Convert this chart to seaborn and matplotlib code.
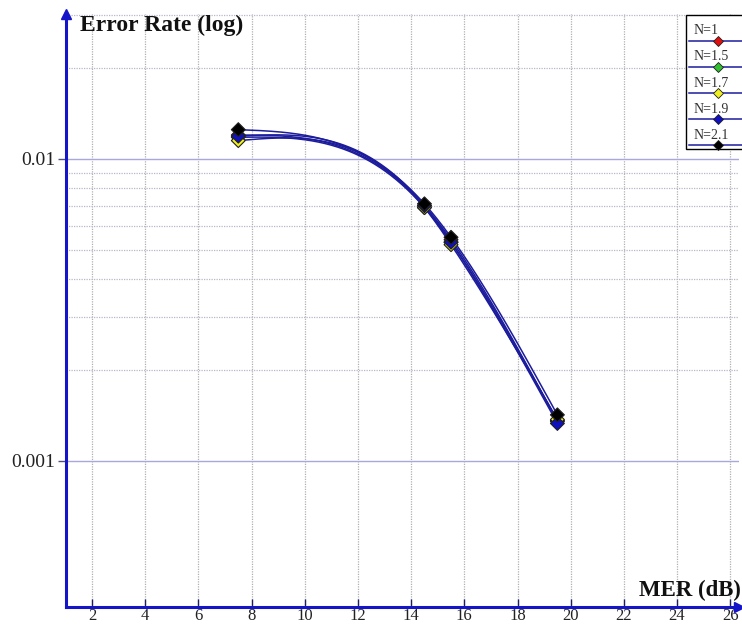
import numpy as np
import pandas as pd
import matplotlib
matplotlib.use("Agg")
import matplotlib.pyplot as plt
import seaborn as sns
from matplotlib.legend_handler import HandlerLine2D
from matplotlib.lines import Line2D
from matplotlib.ticker import FixedLocator, NullFormatter

# data
mer = [7.5, 14.5, 15.5, 19.5]
labels = ["N=1", "N=1.5", "N=1.7", "N=1.9", "N=2.1"]
err_n1 = [0.0120, 0.0070, 0.0054, 0.00135]
err_n15 = [0.0118, 0.0069, 0.0053, 0.00136]
err_n17 = [0.0115, 0.0069, 0.0052, 0.00137]
err_n19 = [0.0119, 0.0070, 0.0053, 0.00133]
err_n21 = [0.0125, 0.0071, 0.0055, 0.00142]
colors = ["#e01010", "#30c030", "#f0f020", "#1010c0", "#000000"]
x_ticks = [2, 4, 6, 8, 10, 12, 14, 16, 18, 20, 22, 24, 26]

series = [err_n1, err_n15, err_n17, err_n19, err_n21]
pts = pd.DataFrame({
    "MER": np.tile(mer, len(labels)),
    "err": np.concatenate(series),
    "N": np.repeat(labels, len(mer)),
})


def natural_spline(x, y, xs):
    x = np.asarray(x, float)
    y = np.asarray(y, float)
    n = len(x)
    h = np.diff(x)
    A = np.zeros((n, n))
    b = np.zeros(n)
    A[0, 0] = A[-1, -1] = 1
    for i in range(1, n - 1):
        A[i, i - 1] = h[i - 1]
        A[i, i] = 2 * (h[i - 1] + h[i])
        A[i, i + 1] = h[i]
        b[i] = 3 * ((y[i + 1] - y[i]) / h[i] - (y[i] - y[i - 1]) / h[i - 1])
    c = np.linalg.solve(A, b)
    idx = np.clip(np.searchsorted(x, xs) - 1, 0, n - 2)
    t = xs - x[idx]
    bb = (y[idx + 1] - y[idx]) / h[idx] - h[idx] * (2 * c[idx] + c[idx + 1]) / 3
    d = (c[idx + 1] - c[idx]) / (3 * h[idx])
    return y[idx] + bb * t + c[idx] * t ** 2 + d * t ** 3


# smooth curve through each series (spline in log space, like the original tool)
curves = []
for lab, ys in zip(labels, series):
    xs = np.linspace(mer[0], mer[-1], 300)
    curves.append(pd.DataFrame({"MER": xs,
                                "err": 10 ** natural_spline(mer, np.log10(ys), xs),
                                "N": lab}))
curves = pd.concat(curves)

plt.rcParams["font.family"] = ["Liberation Serif", "DejaVu Serif"]
axis_blue = "#1414c8"
line_blue = "#1c1c9c"

fig = plt.figure(figsize=(7.42, 6.29), dpi=100)
ax = fig.add_axes([66 / 742, 1 - 607 / 629, (739 - 66) / 742, (607 - 14) / 629])

sns.lineplot(data=curves, x="MER", y="err", hue="N", palette=[line_blue] * 5,
             linewidth=1.1, legend=False, ax=ax, sort=False)
sns.scatterplot(data=pts, x="MER", y="err", hue="N", palette=colors, marker="D",
                s=50, edgecolor="#202020", linewidth=0.8, legend=False, ax=ax, zorder=5)

ax.set_yscale("log")
ax.set_xlim(1.02, 26.33)
ax.set_ylim(0.000328, 0.0302)
ax.set_xlabel("")
ax.set_ylabel("")

ax.set_xticks(x_ticks)
ax.set_yticks([0.001, 0.01])
ax.set_yticklabels(["0.001", "0.01"])
ax.yaxis.set_minor_locator(FixedLocator([0.002, 0.003, 0.004, 0.005, 0.006, 0.007,
                                         0.008, 0.009, 0.02, 0.03]))
ax.yaxis.set_minor_formatter(NullFormatter())
ax.tick_params(axis="y", which="minor", length=0)
ax.tick_params(axis="y", which="major", direction="out", length=6, width=1,
               color="#505080", labelsize=14, labelcolor="#222222", pad=2)
ax.tick_params(axis="x", which="major", direction="in", length=6, width=1,
               color="#202060", labelsize=12, labelcolor="#222222", pad=1)

ax.grid(True, axis="x", which="major", linestyle=(0, (1, 1)), color="#b0b0b0", linewidth=0.9)
ax.grid(True, axis="y", which="major", linestyle="-", color="#a8a8dc", linewidth=1.0)
ax.grid(True, axis="y", which="minor", linestyle=(0, (1, 1)), color="#b8b8c8", linewidth=0.9)
ax.set_axisbelow(True)

for s in ["top", "right"]:
    ax.spines[s].set_visible(False)
for s in ["left", "bottom"]:
    ax.spines[s].set_color(axis_blue)
    ax.spines[s].set_linewidth(2.2)

# axis arrows
ax.plot([0], [1], marker="^", color=axis_blue, markersize=7, transform=ax.transAxes, clip_on=False)
ax.plot([1], [0], marker=">", color=axis_blue, markersize=7, transform=ax.transAxes, clip_on=False)

fig.text(80 / 742, 1 - 25 / 629, "Error Rate (log)", fontsize=17, fontweight="bold",
         va="center", ha="left", color="#111111")
fig.text(741 / 742, 1 - 590 / 629, "MER (dB)", fontsize=16.5, fontweight="bold",
         va="center", ha="right", color="#111111")


# legend: label text above the line, marker in the middle of the line
class LowLine(HandlerLine2D):
    def create_artists(self, legend, orig_handle, xdescent, ydescent, width, height,
                       fontsize, trans):
        return super().create_artists(legend, orig_handle, xdescent, ydescent + 2.05 * fontsize,
                                      width, height, fontsize, trans)


handles = [Line2D([], [], color=line_blue, linewidth=1.1, marker="D", markersize=5.5,
                  markerfacecolor=c, markeredgecolor="#202020", markeredgewidth=0.6)
           for c in colors]
top = 1 - 15 / 629
leg = ax.legend(handles, labels, loc="upper left",
                bbox_to_anchor=(686 / 742, 0.5, 70 / 742, top - 0.5), mode="expand",
                bbox_transform=fig.transFigure, frameon=True, fancybox=False,
                edgecolor="#000000", framealpha=1, fontsize=10, handlelength=4.1,
                handletextpad=-3.8, handleheight=2.2, labelspacing=0.2, borderpad=0.25,
                borderaxespad=0, numpoints=1, handler_map={Line2D: LowLine()})
leg.get_frame().set_linewidth(1.0)
for t in leg.get_texts():
    t.set_color("#333333")

fig.savefig("out.png", dpi=100)
